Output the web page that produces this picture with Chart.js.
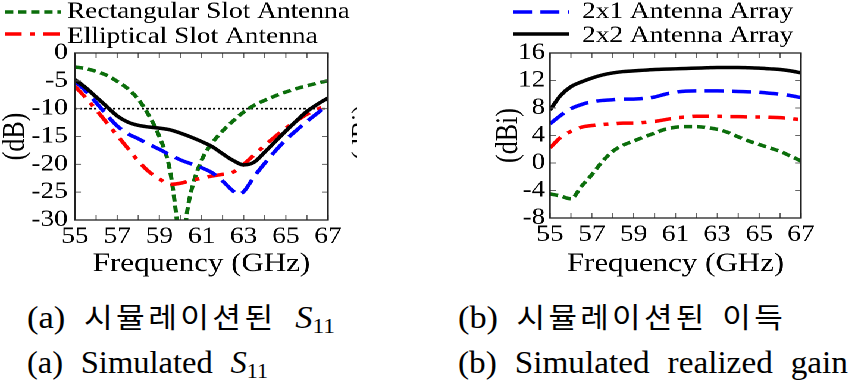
<!DOCTYPE html>
<html><head><meta charset="utf-8">
<script src="https://cdn.jsdelivr.net/npm/chart.js@4.4.1/dist/chart.umd.min.js"></script>
<style>
html,body{margin:0;padding:0;background:#fff;width:851px;height:390px;overflow:hidden;position:relative;}
#wrap{position:absolute;left:0;top:0;width:716px;height:285px;transform:scaleX(1.19);transform-origin:0 0;}
#wrap canvas{position:absolute;top:0;}
.cap{position:absolute;font-family:"Liberation Serif","Noto Sans CJK KR",serif;font-size:31px;line-height:30px;white-space:nowrap;color:#000;transform-origin:0 0;word-spacing:9px;}
.ko{font-family:"Noto Sans CJK KR",sans-serif;font-size:28px;letter-spacing:3px;word-spacing:4px;}
.sub{font-size:21px;vertical-align:-5px;}
#art{position:absolute;left:351px;top:104px;width:6px;height:56px;overflow:hidden;}
#art span{position:absolute;left:-3px;top:56px;font-family:"Liberation Serif",serif;font-size:26px;line-height:26px;white-space:nowrap;transform:rotate(-90deg);transform-origin:0 0;}
</style></head>
<body>
<div id="wrap">
<canvas id="c1" width="357" height="277" style="left:0px"></canvas>
<canvas id="c2" width="358" height="277" style="left:357px"></canvas>
</div>
<div id="art"><span>(dBi)</span></div>
<div class="cap" id="capA1">(a) <span class="ko">시뮬레이션된</span> <i>S</i><span class="sub">11</span></div>
<div class="cap" id="capA2">(a) Simulated <i>S</i><span class="sub">11</span></div>
<div class="cap" id="capB1">(b) <span class="ko">시뮬레이션된 이득</span></div>
<div class="cap" id="capB2">(b) Simulated realized gain</div>
<script>
// ---------- data ----------
const freqS11 = [55,55.5,56,56.5,57,57.5,58,58.5,59,59.5,60,60.5,61,61.5,62,62.5,63,63.5,64,64.5,65,65.5,66,66.5,67];
const freqS11Rect = [55,55.5,56,56.5,57,57.5,58,58.5,59,59.5,59.8,60.05,60.3,60.5,61,61.5,62,62.5,63,63.5,64,64.5,65,65.5,66,66.5,67];
const freqS11Array2x1 = [55,55.5,56,56.5,57,57.5,58,58.5,59,59.5,60,60.5,61,61.5,62,62.5,62.75,63,63.5,64,64.5,65,65.5,66,66.5,67];
const s11Rect = [-2.5,-2.8,-3.3,-4.0,-5.1,-6.4,-8.3,-11.2,-15.0,-21.0,-29,-38,-29,-25,-19.3,-16.2,-14.0,-12.2,-10.6,-9.4,-8.5,-7.7,-7.0,-6.4,-5.9,-5.4,-5.0];
const s11Ellip = [-6.0,-8.0,-10.2,-12.5,-14.8,-17.1,-19.4,-21.3,-22.6,-23.6,-23.4,-22.9,-22.5,-22.1,-21.8,-21.4,-20.0,-18.3,-16.6,-15.0,-13.5,-12.2,-11.0,-10.1,-9.3];
const s11Array2x1 = [-5.1,-6.8,-8.9,-11.1,-13.1,-14.5,-15.4,-16.4,-17.3,-18.3,-19.2,-19.9,-20.6,-21.5,-23.0,-24.8,-25.4,-24.9,-22.2,-19.8,-17.6,-15.6,-13.9,-12.3,-10.8,-9.3];
const s11Array2x2 = [-4.8,-6.2,-7.9,-9.6,-11.3,-12.4,-13.0,-13.3,-13.5,-13.8,-14.4,-15.1,-15.9,-16.8,-18.1,-19.3,-20.1,-19.6,-17.8,-15.9,-14.0,-12.2,-10.5,-9.2,-8.1];
const refLevel = -10;

const freqGain = [55,55.5,56,56.5,57,57.5,58,58.5,59,59.5,60,60.5,61,61.5,62,62.5,63,63.5,64,64.5,65,65.5,66,66.5,67];
const gainRect = [-4.5,-4.8,-5.2,-3.4,-1.7,0.2,1.7,2.6,3.2,3.8,4.35,4.9,5.2,5.3,5.3,5.15,4.9,4.45,3.8,3.2,2.7,2.2,1.7,1.0,0.3];
const gainEllip = [2.2,3.7,4.6,5.2,5.45,5.6,5.7,5.8,5.8,5.9,6.05,6.3,6.55,6.7,6.8,6.8,6.8,6.75,6.75,6.7,6.7,6.65,6.6,6.45,6.3];
const gainArray2x1 = [5.7,6.9,7.9,8.5,8.9,9.1,9.2,9.3,9.3,9.4,9.6,10.0,10.3,10.45,10.5,10.5,10.5,10.45,10.4,10.35,10.3,10.15,10.0,9.8,9.5];
const gainArray2x2 = [7.7,9.8,11.1,11.8,12.35,12.8,13.1,13.3,13.4,13.5,13.6,13.65,13.7,13.75,13.8,13.85,13.9,13.9,13.9,13.85,13.8,13.7,13.6,13.4,13.1];

const labels = ['Rectangular Slot Antenna','Elliptical Slot Antenna','2x1 Antenna Array','2x2 Antenna Array'];
const xTickLabels = [55,57,59,61,63,65,67];

// ---------- helpers ----------
const S = 1.19;
const FONT = "'Liberation Serif', serif";
const pts = (xs, ys) => xs.map((x,i)=>({x, y: ys[i]}));
const styles = [
  {borderColor:'#0b6e0b', borderDash:[7,4], borderWidth:3.5, order:3},
  {borderColor:'#ff0000', borderDash:[14,7,4,7], borderWidth:3.5, order:2},
  {borderColor:'#0000ff', borderDash:[16,7], borderWidth:3.5, order:1},
  {borderColor:'#000000', borderDash:[], borderWidth:3.5, order:0}
];
function ds(i, data){
  return Object.assign({label: labels[i], data, pointRadius:0, fill:false, cubicInterpolationMode:'monotone'}, styles[i]);
}
Chart.defaults.font.family = FONT;
Chart.defaults.color = '#000';

const framePlugin = {
  id:'frameTicks',
  afterDraw(chart){
    const {ctx, chartArea:a, scales:{x,y}} = chart;
    ctx.save();
    ctx.strokeStyle = '#666'; ctx.lineWidth = 1;
    const L = 5;
    ctx.beginPath();
    x.ticks.forEach(t=>{const p=x.getPixelForValue(t.value); ctx.moveTo(p,a.bottom); ctx.lineTo(p,a.bottom-L); ctx.moveTo(p,a.top); ctx.lineTo(p,a.top+L);});
    y.ticks.forEach(t=>{const p=y.getPixelForValue(t.value); ctx.moveTo(a.left,p); ctx.lineTo(a.left+L,p); ctx.moveTo(a.right,p); ctx.lineTo(a.right-L,p);});
    ctx.stroke();
    ctx.strokeStyle = '#222'; ctx.lineWidth = 1.3;
    ctx.strokeRect(a.left, a.top, a.right-a.left, a.bottom-a.top);
    ctx.restore();
  }
};
const legendPlugin = {
  id:'lineLegend',
  afterDraw(chart, args, opts){
    const ctx = chart.ctx;
    (opts.items||[]).forEach(it=>{
      const d = chart.data.datasets[it.ds];
      ctx.save();
      ctx.strokeStyle = d.borderColor; ctx.lineWidth = d.borderWidth; ctx.setLineDash(d.borderDash||[]);
      ctx.beginPath(); ctx.moveTo(it.x1, it.y); ctx.lineTo(it.x2, it.y); ctx.stroke();
      ctx.setLineDash([]);
      ctx.fillStyle = '#000'; ctx.font = "23px " + FONT; ctx.textBaseline = 'alphabetic'; ctx.textAlign='left';
      ctx.fillText(d.label, it.tx, it.ty);
      ctx.restore();
    });
  }
};

function makeChart(id, cfg){
  return new Chart(document.getElementById(id), {
    type:'line',
    data:{datasets: cfg.datasets},
    plugins:[framePlugin, legendPlugin],
    options:{
      responsive:false, animation:false, devicePixelRatio:2,
      layout:{padding:{left:cfg.padLeft, right:cfg.padRight, top:53, bottom:0}},
      plugins:{legend:{display:false}, tooltip:{enabled:false}, lineLegend:{items:cfg.legend}},
      scales:{
        x:{type:'linear', min:55, max:67,
           afterFit: s=>{s.height = cfg.xH;},
           ticks:{stepSize:1, autoSkip:false, maxRotation:0, padding:3, font:{size:23},
                  callback:v=> xTickLabels.includes(v) ? String(v) : ''},
           grid:{display:false, drawTicks:false}, border:{display:false},
           title:{display:true, text:'Frequency (GHz)', font:{size:26, lineHeight:1}, padding:0}},
        y:{type:'linear', min:cfg.yMin, max:cfg.yMax,
           afterFit: s=>{s.width = cfg.yW;},
           ticks:{stepSize:cfg.yStep, autoSkip:false, padding:cfg.yPad, font:{size:23}, callback:v=>String(v)},
           grid:{display:false, drawTicks:false}, border:{display:false},
           title:{display:true, text:cfg.yTitle, font:{size:26, lineHeight:1}, padding:0}}
      }
    }
  });
}

function build(){
  // left chart (S11)
  makeChart('c1', {
    datasets:[
      ds(0, pts(freqS11Rect, s11Rect)),
      ds(1, pts(freqS11, s11Ellip)),
      ds(2, pts(freqS11Array2x1, s11Array2x1)),
      ds(3, pts(freqS11, s11Array2x2)),
      {label:'-10 dB', data:[{x:55,y:refLevel},{x:67,y:refLevel}], borderColor:'#000', borderWidth:1.6, borderDash:[2,2], pointRadius:0, order:5}
    ],
    padLeft:0, padRight:357-328/S, yW:75/S, yPad:6, xH:277-220,
    yMin:-30, yMax:0, yStep:5, yTitle:'(dB)',
    legend:[{ds:0, x1:5/S, x2:61/S, y:12, tx:67/S, ty:18},
            {ds:1, x1:5/S, x2:61/S, y:34, tx:67/S, ty:43}]
  });

  // right chart (gain)
  const o2 = 357;
  makeChart('c2', {
    datasets:[
      ds(0, pts(freqGain, gainRect)),
      ds(1, pts(freqGain, gainEllip)),
      ds(2, pts(freqGain, gainArray2x1)),
      ds(3, pts(freqGain, gainArray2x2))
    ],
    padLeft:57.7, padRight:358-(801/S-o2), yW:(550/S-o2)-57.7, yPad:4, xH:277-218,
    yMin:-8, yMax:16, yStep:4, yTitle:'(dBi)',
    legend:[{ds:2, x1:513/S-o2, x2:569/S-o2, y:12, tx:582/S-o2, ty:18},
            {ds:3, x1:513/S-o2, x2:569/S-o2, y:34, tx:582/S-o2, ty:42}]
  });

  // captions
  function fit(id, left, right, top){
    const el = document.getElementById(id);
    el.style.left = left+'px'; el.style.top = top+'px';
    const w = el.getBoundingClientRect().width;
    el.style.transform = 'scaleX(' + ((right-left)/w) + ')';
  }
  fit('capA1', 27, 335, 301);
  fit('capA2', 27, 268, 348);
  fit('capB1', 458, 786, 301);
  fit('capB2', 458, 848, 348);
}
if (document.fonts && document.fonts.load) {
  Promise.all([document.fonts.load("23px 'Liberation Serif'"), document.fonts.load("28px 'Noto Sans CJK KR'")]).then(build, build);
} else build();
</script>
</body></html>
